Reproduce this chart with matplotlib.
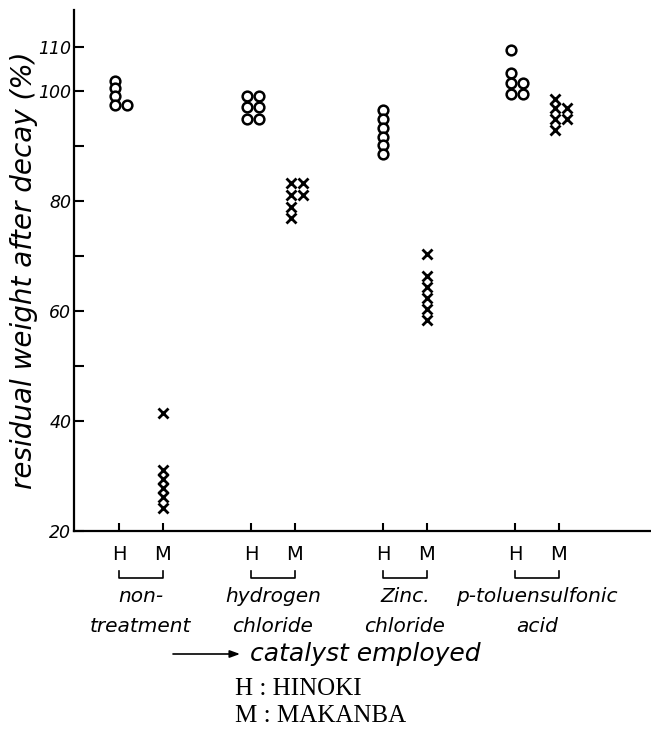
import numpy as np
import matplotlib
matplotlib.use("Agg")
import matplotlib.pyplot as plt

# ---------------- data ----------------
categories = ["non-\ntreatment", "hydrogen\nchloride", "Zinc.\nchloride", "p-toluensulfonic\nacid"]
species = ["H", "M"]
hinoki = [
    [102.3, 100.7, 99.1, 97.5, 97.5],            # non-treatment
    [99.1, 99.1, 97.1, 97.1, 94.9, 94.9],        # hydrogen chloride
    [96.5, 94.9, 93.3, 91.7, 90.1, 88.5],        # zinc chloride
    [109.5, 104.1, 101.8, 101.8, 99.5, 99.5],    # p-toluensulfonic acid
]
makanba = [
    [41.5, 31.1, 29.5, 27.8, 26.2, 24.2],
    [83.3, 83.3, 81.0, 81.0, 78.9, 76.9],
    [70.3, 66.3, 64.4, 62.4, 60.4, 58.4],
    [98.5, 96.9, 96.9, 94.8, 94.8, 92.8],
]
ytick_major = [20, 40, 60, 80, 100, 110]
ytick_minor = [50, 70, 90]
legend_lines = ["H : HINOKI", "M : MAKANBA"]
xlabel_text = "catalyst employed"
ylabel_text = "residual weight after decay (%)"

# ---------------- figure ----------------
W, H = 651, 735
fig = plt.figure(figsize=(W / 100, H / 100), dpi=100)
ax_left, ax_right, ax_bottom, ax_top = 74, 650, 531, 10  # pixels
ax = fig.add_axes([ax_left / W, (H - ax_bottom) / H,
                   (ax_right - ax_left) / W, (ax_bottom - ax_top) / H])

# the original axis is compressed above 100
k = 0.79
def fwd(v):
    v = np.asarray(v, dtype=float)
    return np.where(v <= 100, v, 100 + (v - 100) * k)
def inv(u):
    u = np.asarray(u, dtype=float)
    return np.where(u <= 100, u, 100 + (u - 100) / k)
ax.set_yscale("function", functions=(fwd, inv))
ax.set_ylim(20, 118.6)
ax.set_xlim(-1.02, 12.07)

def positions(vals, center):
    seen = {}
    has_dup = len(set(vals)) < len(vals)
    base = center - 0.08 if has_dup else center
    xs = []
    for v in vals:
        n = seen.get(v, 0)
        xs.append(base + 0.26 * n)
        seen[v] = n + 1
    return xs

for i in range(len(categories)):
    xh = 3 * i
    xm = 3 * i + 1
    ax.plot(positions(hinoki[i], xh), hinoki[i], linestyle="none", marker="o",
            markersize=7.0, markerfacecolor="white", markeredgecolor="black",
            markeredgewidth=1.8, clip_on=False)
    ax.plot(positions(makanba[i], xm), makanba[i], linestyle="none", marker="x",
            markersize=7.0, color="black", markeredgewidth=2.0, clip_on=False)

for s in ["top", "right"]:
    ax.spines[s].set_visible(False)
for s in ["left", "bottom"]:
    ax.spines[s].set_linewidth(1.6)
    ax.spines[s].set_color("black")

tick_x = [3 * i + j for i in range(len(categories)) for j in range(2)]
ax.set_xticks(tick_x)
ax.set_xticklabels([])
ax.tick_params(axis="x", direction="in", length=6, width=1.5, colors="black")

ax.set_yticks(ytick_major)
ax.set_yticks(ytick_minor, minor=True)
ax.set_yticklabels([str(t) for t in ytick_major], fontstyle="italic", fontsize=12.5)
ax.tick_params(axis="y", which="both", direction="in", length=7, width=1.5, pad=2)
ax.patch.set_alpha(0)

def yf(px):
    return (ax_bottom - px) / (ax_bottom - ax_top)

tr = ax.get_xaxis_transform()
for i, cat in enumerate(categories):
    xh = 3 * i
    xm = 3 * i + 1
    ax.text(xh, yf(554), species[0], transform=tr, ha="center", va="center", fontsize=14)
    ax.text(xm, yf(554), species[1], transform=tr, ha="center", va="center", fontsize=14)
    ax.plot([xh, xh, xm, xm], [yf(571), yf(578), yf(578), yf(571)], transform=tr,
            color="black", lw=1.2, clip_on=False)
    l1, l2 = cat.split("\n")
    ax.text((xh + xm) / 2, yf(597), l1, transform=tr, ha="center", va="center",
            fontsize=14.5, fontstyle="italic")
    ax.text((xh + xm) / 2, yf(626), l2, transform=tr, ha="center", va="center",
            fontsize=14.5, fontstyle="italic")

def fx(px):
    return px / W
def fy(px):
    return (H - px) / H

fig.text(fx(24), fy(270), ylabel_text, rotation=90, ha="center", va="center",
         fontsize=20, fontstyle="italic")

fig.add_artist(matplotlib.patches.FancyArrowPatch(
    (fx(173), fy(654)), (fx(240), fy(654)), transform=fig.transFigure,
    arrowstyle="-|>,head_length=6,head_width=2.2", color="black", lw=1.2,
    shrinkA=0, shrinkB=0))
fig.text(fx(250), fy(654), xlabel_text, ha="left", va="center",
         fontsize=18, fontstyle="italic")

fig.text(fx(235), fy(689), legend_lines[0], ha="left", va="center",
         fontsize=18, family="Liberation Serif")
fig.text(fx(235), fy(716), legend_lines[1], ha="left", va="center",
         fontsize=18, family="Liberation Serif")

fig.savefig("out.png", dpi=100, facecolor="white")
